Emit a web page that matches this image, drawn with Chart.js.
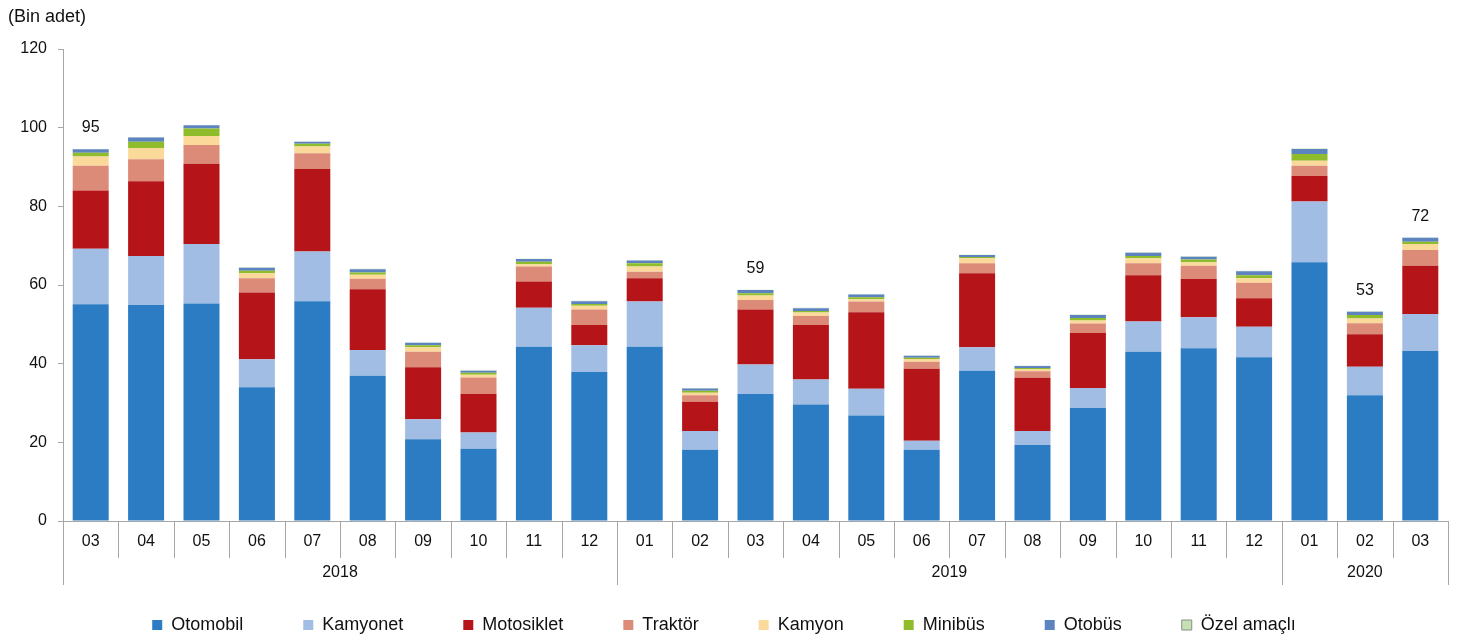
<!DOCTYPE html>
<html>
<head>
<meta charset="utf-8">
<script src="https://cdn.jsdelivr.net/npm/chart.js@4.4.1/dist/chart.umd.min.js"></script>
<style>
html, body { margin: 0; padding: 0; background: #fff; }
#wrap { width: 1468px; height: 640px; }
</style>
</head>
<body>
<div id="wrap"><canvas id="myChart"></canvas></div>
<script>
/* month ticks, grouped by year below the axis */
const months = ["03", "04", "05", "06", "07", "08", "09", "10", "11", "12",
    "01", "02", "03", "04", "05", "06", "07", "08", "09", "10", "11", "12",
    "01", "02", "03"];
const yearNames = ["2018", "2019", "2020"];
const yearMonthCount = [10, 12, 3];

/* thousands of vehicles */
const otomobil = [55.1, 54.9, 55.3, 34.0, 55.9, 36.9, 20.8, 18.4, 44.3, 37.9,
    44.3, 18.1, 32.3, 29.6, 26.8, 18.1, 38.2, 19.3, 28.7, 43.0, 43.9, 41.6,
    65.8, 32.0, 43.2];
const kamyonet = [14.1, 12.5, 15.1, 7.1, 12.6, 6.6, 5.1, 4.1, 9.9, 6.8,
    11.5, 4.8, 7.5, 6.4, 6.8, 2.3, 6.0, 3.6, 5.1, 7.7, 7.9, 7.8,
    15.4, 7.2, 9.4];
const motosiklet = [14.8, 19.0, 20.4, 17.0, 21.0, 15.4, 13.2, 9.8, 6.7, 5.1,
    5.9, 7.4, 14.0, 13.8, 19.5, 18.3, 18.8, 13.5, 14.0, 11.8, 9.7, 7.2,
    6.5, 8.3, 12.3];
const traktor = [6.3, 5.6, 4.8, 3.6, 4.0, 2.7, 3.9, 4.2, 3.8, 4.0,
    1.7, 1.7, 2.4, 2.3, 2.7, 1.8, 2.5, 1.7, 2.4, 3.0, 3.4, 4.0,
    2.6, 2.8, 4.0];
const kamyon = [2.4, 2.8, 2.3, 1.3, 1.7, 1.0, 1.2, 0.7, 0.6, 0.9,
    1.3, 0.6, 1.1, 0.9, 0.6, 0.7, 1.3, 0.5, 0.8, 1.3, 0.9, 1.1,
    1.3, 1.2, 1.5];
const minibus = [0.9, 1.6, 1.9, 0.6, 0.7, 0.6, 0.5, 0.5, 0.6, 0.5,
    0.8, 0.5, 0.6, 0.4, 0.5, 0.3, 0.3, 0.3, 0.6, 0.6, 0.7, 0.8,
    1.7, 0.9, 0.6];
const otobus = [0.9, 1.1, 0.8, 0.8, 0.5, 0.8, 0.6, 0.5, 0.7, 0.7,
    0.7, 0.6, 0.8, 0.7, 0.7, 0.5, 0.5, 0.5, 0.8, 0.8, 0.7, 1.0,
    1.3, 0.8, 1.0];
const ozelAmacli = [0.1, 0.1, 0.1, 0.1, 0.1, 0.1, 0.1, 0.1, 0.1, 0.1,
    0.1, 0.1, 0.1, 0.1, 0.1, 0.1, 0.1, 0.1, 0.1, 0.1, 0.1, 0.1,
    0.1, 0.1, 0.1];

/* bars that get a total written above them */
const totalShownAt = [0, 12, 23, 24];

const yTicks = [0, 20, 40, 60, 80, 100, 120];

const FONT = '"Liberation Sans", Arial, sans-serif';
const ctx = document.getElementById("myChart");

const barSet = (label, data, color) => ({
    label: label,
    data: data,
    backgroundColor: color,
    borderWidth: 0,
    stack: 's',
    barPercentage: 0.65,
    categoryPercentage: 1.0
});

/*year row, month separators, unit and totals*/
const extras = {
    id: 'extras',
    afterDraw(chart) {
        const c = chart.ctx;
        const area = chart.chartArea;
        const x = chart.scales.x;
        const y = chart.scales.y;
        const n = months.length;
        c.save();
        c.fillStyle = '#111';
        c.textBaseline = 'middle';
        c.textAlign = 'left';
        c.font = '18px ' + FONT;
        c.fillText('(Bin adet)', 8, 17);
        c.font = '16px ' + FONT;

        // separators
        const yearEdges = [0];
        yearMonthCount.forEach(k => yearEdges.push(yearEdges[yearEdges.length - 1] + k));
        const edgeX = (i) => {
            if (i === 0) return area.left;
            if (i === n) return area.right;
            return (x.getPixelForValue(i - 1) + x.getPixelForValue(i)) / 2;
        };
        c.strokeStyle = '#a6a6a6';
        c.lineWidth = 1;
        for (let i = 0; i <= n; i++) {
            const px = Math.round(edgeX(i)) + 0.5;
            const long = yearEdges.includes(i);
            c.beginPath();
            c.moveTo(px, area.bottom);
            c.lineTo(px, area.bottom + (long ? 64 : 37));
            c.stroke();
        }

        // year labels
        c.textAlign = 'center';
        for (let k = 0; k < yearNames.length; k++) {
            const mid = (edgeX(yearEdges[k]) + edgeX(yearEdges[k + 1])) / 2;
            c.fillText(yearNames[k], mid, area.bottom + 52);
        }

        // totals
        totalShownAt.forEach(i => {
            let sum = 0;
            chart.data.datasets.forEach(ds => sum += ds.data[i]);
            c.fillText(Math.round(sum).toString(), x.getPixelForValue(i), y.getPixelForValue(sum) - 21);
        });
        c.restore();
    }
};

var vehicleChart = new Chart(ctx, {
    type: 'bar',
    data: {
        labels: months,
        datasets: [
            barSet('Otomobil', otomobil, '#2b7cc2'),
            barSet('Kamyonet', kamyonet, '#a2bde3'),
            barSet('Motosiklet', motosiklet, '#b51519'),
            barSet('Traktör', traktor, '#dc8b78'),
            barSet('Kamyon', kamyon, '#fbd99b'),
            barSet('Minibüs', minibus, '#8fbc2a'),
            barSet('Otobüs', otobus, '#5d83c1'),
            barSet('Özel amaçlı', ozelAmacli, '#c5e0b3')
        ]
    },
    options: {
        responsive: true,
        maintainAspectRatio: false,
        animation: false,
        layout: {
            padding: {top: 49, right: 20, bottom: -4, left: 0}
        },
        scales: {
            x: {
                stacked: true,
                grid: {display: true, drawOnChartArea: false, drawTicks: false},
                border: {display: true, color: '#a6a6a6'},
                ticks: {color: '#111', font: {family: FONT, size: 16}, padding: 11, maxRotation: 0, autoSkip: false},
                afterFit: (scale) => { scale.height = 35; }
            },
            y: {
                stacked: true,
                min: 0,
                max: 120,
                afterBuildTicks: (scale) => { scale.ticks = yTicks.map(v => ({value: v})); },
                grid: {display: true, drawOnChartArea: false, tickLength: 5, color: '#a6a6a6'},
                border: {display: true, color: '#a6a6a6'},
                ticks: {color: '#111', font: {family: FONT, size: 16}, padding: 11},
                afterFit: (scale) => { scale.width = 63; }
            }
        },
        plugins: {
            tooltip: {enabled: false},
            legend: {
                position: 'bottom',
                labels: {
                    boxWidth: 10,
                    boxHeight: 10,
                    padding: 60,
                    color: '#111',
                    font: {family: FONT, size: 18},
                    generateLabels: function (chart) {
                        const items = Chart.defaults.plugins.legend.labels.generateLabels(chart);
                        items.forEach(it => { it.lineWidth = 0; });
                        const last = items[items.length - 1];
                        last.strokeStyle = '#8c8c8c';
                        last.lineWidth = 1;
                        return items;
                    }
                }
            }
        }
    },
    plugins: [extras]
});
</script>
</body>
</html>
